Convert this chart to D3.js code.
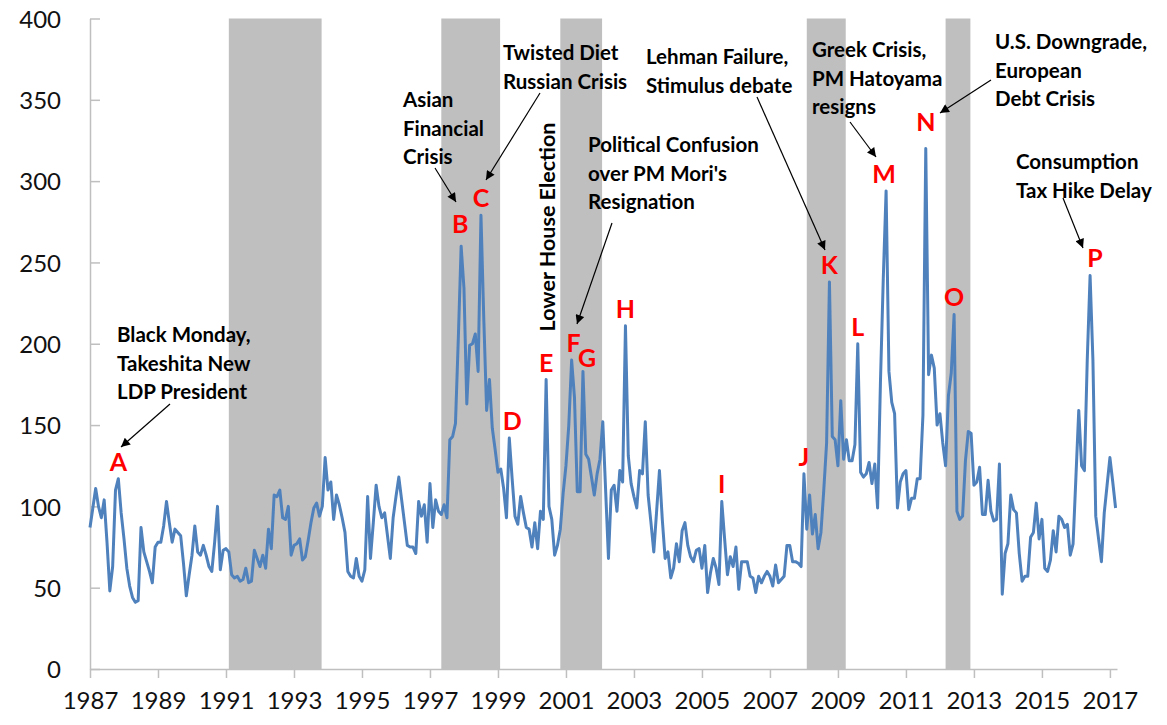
<!DOCTYPE html>
<html>
<head>
<meta charset="utf-8">
<script src="https://cdn.jsdelivr.net/npm/d3@7"></script>
<style>
	body { margin: 0; background: #fff; }
	svg text { font-family: Lato, 'Open Sans', sans-serif; }
	.tick text { font-size: 24px; fill: #111; }
	.note { font-size: 20.5px; font-weight: bold; fill: #000; }
	.side { font-size: 21.5px; }
	.letter { font-size: 25px; font-weight: bold; fill: #ff0000; }
</style>
</head>
<body>
<div id="chart"></div>
<script>
// monthly index, Jan 1987 .. Mar 2017 (12 values per row)
var startYear = 1987;
var index = [
	87, 99, 111, 100, 93, 104, 78, 48, 63, 110, 117, 96,        // 1987
	80, 62, 51, 44, 41, 42, 87, 72, 66, 60, 53, 75,             // 1988
	78, 78, 88, 103, 90, 78, 86, 84, 82, 65, 45, 58,            // 1989
	70, 88, 72, 70, 76, 70, 63, 60, 78, 100, 61, 73,            // 1990
	74, 72, 58, 56, 57, 54, 55, 62, 53, 54, 73, 68,             // 1991
	63, 70, 62, 86, 74, 107, 106, 110, 93, 92, 100, 70,         // 1992
	76, 77, 80, 67, 69, 79, 90, 99, 102, 94, 100, 130,          // 1993
	110, 115, 92, 107, 101, 93, 84, 60, 57, 56, 68, 57,         // 1994
	54, 61, 106, 68, 90, 113, 100, 93, 96, 82, 68, 93,          // 1995
	106, 118, 104, 90, 76, 75, 75, 71, 103, 94, 101, 78,        // 1996
	114, 87, 104, 97, 95, 101, 93, 141, 143, 151, 203, 260,     // 1997
	234, 163, 199, 200, 206, 183, 279, 215, 159, 178, 148, 135, // 1998
	121, 123, 111, 93, 142, 117, 94, 89, 106, 96, 87, 86,       // 1999
	75, 90, 74, 97, 92, 178, 100, 92, 70, 76, 86, 108,          // 2000
	125, 150, 190, 167, 109, 109, 183, 132, 129, 118, 107, 120, // 2001
	129, 152, 110, 68, 110, 113, 97, 122, 115, 211, 131, 114,   // 2002
	106, 99, 122, 120, 152, 107, 90, 72, 97, 122, 92, 68,       // 2003
	72, 56, 62, 77, 66, 85, 90, 76, 69, 66, 73, 74,             // 2004
	62, 76, 47, 59, 68, 62, 52, 103, 80, 58, 69, 63,            // 2005
	75, 49, 66, 66, 66, 57, 56, 47, 57, 53, 57, 60,             // 2006
	57, 51, 64, 53, 55, 57, 76, 76, 66, 66, 65, 63,             // 2007
	120, 86, 107, 83, 95, 74, 84, 110, 139, 238, 143, 141,      // 2008
	125, 165, 129, 141, 128, 128, 138, 200, 121, 118, 120, 127, // 2009
	114, 126, 99, 176, 240, 294, 183, 164, 157, 99, 115, 120,   // 2010
	122, 98, 105, 105, 117, 117, 156, 320, 181, 193, 185, 150,  // 2011
	157, 139, 125, 168, 182, 218, 97, 92, 94, 128, 146, 145,    // 2012
	113, 115, 124, 95, 95, 116, 97, 91, 92, 126, 46, 71,        // 2013
	77, 107, 98, 96, 71, 54, 57, 57, 81, 84, 102, 80,           // 2014
	92, 62, 60, 67, 85, 72, 94, 92, 87, 89, 70, 77,             // 2015
	118, 159, 125, 122, 190, 242, 190, 94, 80, 66, 96, 113,     // 2016
	130, 115, 99                                                // 2017
];

var yearTicks  = [1987, 1989, 1991, 1993, 1995, 1997, 1999, 2001, 2003, 2005, 2007, 2009, 2011, 2013, 2015, 2017];
var valueTicks = [0, 50, 100, 150, 200, 250, 300, 350, 400];

// shaded periods (first month, last month)
var recessions = [
	['1991-02', '1993-10'],
	['1997-05', '1999-01'],
	['2000-11', '2002-01'],
	['2008-02', '2009-03'],
	['2012-03', '2012-11']
];

// lettered events (label, month of the spike)
var events = [
	['A', '1987-11'], ['B', '1997-12'], ['C', '1998-07'], ['D', '1999-05'],
	['E', '2000-06'], ['F', '2001-03'], ['G', '2001-07'], ['H', '2002-10'],
	['I', '2005-08'], ['J', '2008-01'], ['K', '2008-10'], ['L', '2009-08'],
	['M', '2010-06'], ['N', '2011-08'], ['O', '2012-06'], ['P', '2016-06']
];

var notes = [
	['Black Monday,', 'Takeshita New', 'LDP President'],
	['Asian', 'Financial', 'Crisis'],
	['Twisted Diet', 'Russian Crisis'],
	['Political Confusion', 'over PM Mori\'s', 'Resignation'],
	['Lehman Failure,', 'Stimulus debate'],
	['Greek Crisis,', 'PM Hatoyama', 'resigns'],
	['U.S. Downgrade,', 'European', 'Debt Crisis'],
	['Consumption', 'Tax Hike Delay']
];
var sideNote = 'Lower House Election';

/* layout */
var width  = 1167,
	height = 725;
var plot = {left: 90, right: 1117, top: 18.5, bottom: 669};
var lineGap = 28.5;
// note positions: left x, centre of first line
var notePos = [[117, 335], [403, 100], [503, 53], [588, 145], [646, 57], [812, 50], [995, 42], [1016, 162]];
// arrows [x1, y1, x2, y2]
var arrows = [
	[170, 404, 121, 447], [435, 168, 456, 202], [540, 93, 486, 180], [612, 223, 577, 324],
	[757, 97, 825, 250], [850, 122, 876, 157], [991, 80, 940, 113], [1063, 198, 1083, 248]
];
var letterNudge = {B: [-1, -5], D: [3, 0], F: [2, 0], G: [4, 4], M: [-2, 0], N: [0, -10], P: [5, 0]};

function monthOf(s) {
	var p = s.split('-');
	return (+p[0] - startYear) * 12 + (+p[1] - 1);
}

var x = d3.scaleLinear()
	.domain([0, 362.5])
	.range([plot.left, plot.right]);
var y = d3.scaleLinear()
	.domain([0, 400])
	.range([plot.bottom, plot.top]);

var svg = d3.select('#chart').append('svg')
	.attr('width', width)
	.attr('height', height);

svg.append('defs').append('marker')
	.attr('id', 'arrow')
	.attr('viewBox', '0 0 10 10')
	.attr('refX', 10)
	.attr('refY', 5)
	.attr('markerWidth', 11)
	.attr('markerHeight', 9)
	.attr('markerUnits', 'userSpaceOnUse')
	.attr('orient', 'auto')
	.append('path')
	.attr('d', 'M0,0L10,5L0,10z')
	.attr('fill', '#000');

// shaded bands
svg.append('g')
	.selectAll('rect')
	.data(recessions)
	.enter().append('rect')
	.attr('x', function(d) { return x(monthOf(d[0])); })
	.attr('width', function(d) { return x(monthOf(d[1]) + 0.75) - x(monthOf(d[0])); })
	.attr('y', y(400))
	.attr('height', y(0) - y(400))
	.attr('fill', '#bfbfbf');

// axes
var yAxis = d3.axisLeft(y)
	.tickValues(valueTicks)
	.tickSize(0)
	.tickPadding(29);
var yg = svg.append('g')
	.attr('transform', 'translate(' + plot.left + ',0)')
	.call(yAxis);
yg.select('.domain').attr('stroke', '#bfbfbf').attr('stroke-width', 1.5);
yg.selectAll('.tick line').remove();
yg.selectAll('.tick text').attr('dy', '0.36em');
yg.selectAll('.tick').append('line')
	.attr('x1', 0)
	.attr('x2', 10)
	.attr('stroke', '#bfbfbf')
	.attr('stroke-width', 1.5);

var xAxis = d3.axisBottom(x)
	.tickValues(yearTicks.map(function(yr) { return (yr - startYear) * 12; }))
	.tickFormat(function(m) { return startYear + m / 12; })
	.tickSizeInner(9)
	.tickSizeOuter(0)
	.tickPadding(14);
var xg = svg.append('g')
	.attr('transform', 'translate(0,' + plot.bottom + ')')
	.call(xAxis);
xg.select('.domain').attr('stroke', '#bfbfbf').attr('stroke-width', 1.5);
xg.selectAll('.tick line').attr('stroke', '#bfbfbf').attr('stroke-width', 1.5);
xg.selectAll('.tick text').attr('dy', '0.72em');
svg.selectAll('.tick text').attr('font-family', null).attr('font-size', null);

// the index line
var line = d3.line()
	.x(function(d, i) { return x(i); })
	.y(function(d) { return y(d); });
svg.append('path')
	.datum(index)
	.attr('d', line)
	.attr('fill', 'none')
	.attr('stroke', '#4f81bd')
	.attr('stroke-width', 3)
	.attr('stroke-linejoin', 'round');

// event letters
svg.append('g')
	.selectAll('text')
	.data(events)
	.enter().append('text')
	.attr('class', 'letter')
	.attr('text-anchor', 'middle')
	.attr('dy', '0.36em')
	.attr('x', function(d) {
		var n = letterNudge[d[0]] || [0, 0];
		return x(monthOf(d[1])) + n[0];
	})
	.attr('y', function(d) {
		var n = letterNudge[d[0]] || [0, 0];
		return y(index[monthOf(d[1])]) - 17 + n[1];
	})
	.text(function(d) { return d[0]; });

// notes
var note = svg.append('g')
	.selectAll('text')
	.data(notes)
	.enter().append('text')
	.attr('class', 'note')
	.attr('transform', function(d, i) { return 'translate(' + notePos[i][0] + ',' + notePos[i][1] + ')'; });
note.selectAll('tspan')
	.data(function(d) { return d; })
	.enter().append('tspan')
	.attr('x', 0)
	.attr('y', function(d, i) { return i * lineGap; })
	.attr('dy', '0.36em')
	.text(function(d) { return d; });

svg.append('text')
	.attr('class', 'note side')
	.attr('text-anchor', 'middle')
	.attr('dy', '0.36em')
	.attr('transform', 'translate(547,227) rotate(-90)')
	.text(sideNote);

svg.append('g')
	.selectAll('line')
	.data(arrows)
	.enter().append('line')
	.attr('x1', function(d) { return d[0]; })
	.attr('y1', function(d) { return d[1]; })
	.attr('x2', function(d) { return d[2]; })
	.attr('y2', function(d) { return d[3]; })
	.attr('stroke', '#000')
	.attr('stroke-width', 1.2)
	.attr('marker-end', 'url(#arrow)');
</script>
</body>
</html>
